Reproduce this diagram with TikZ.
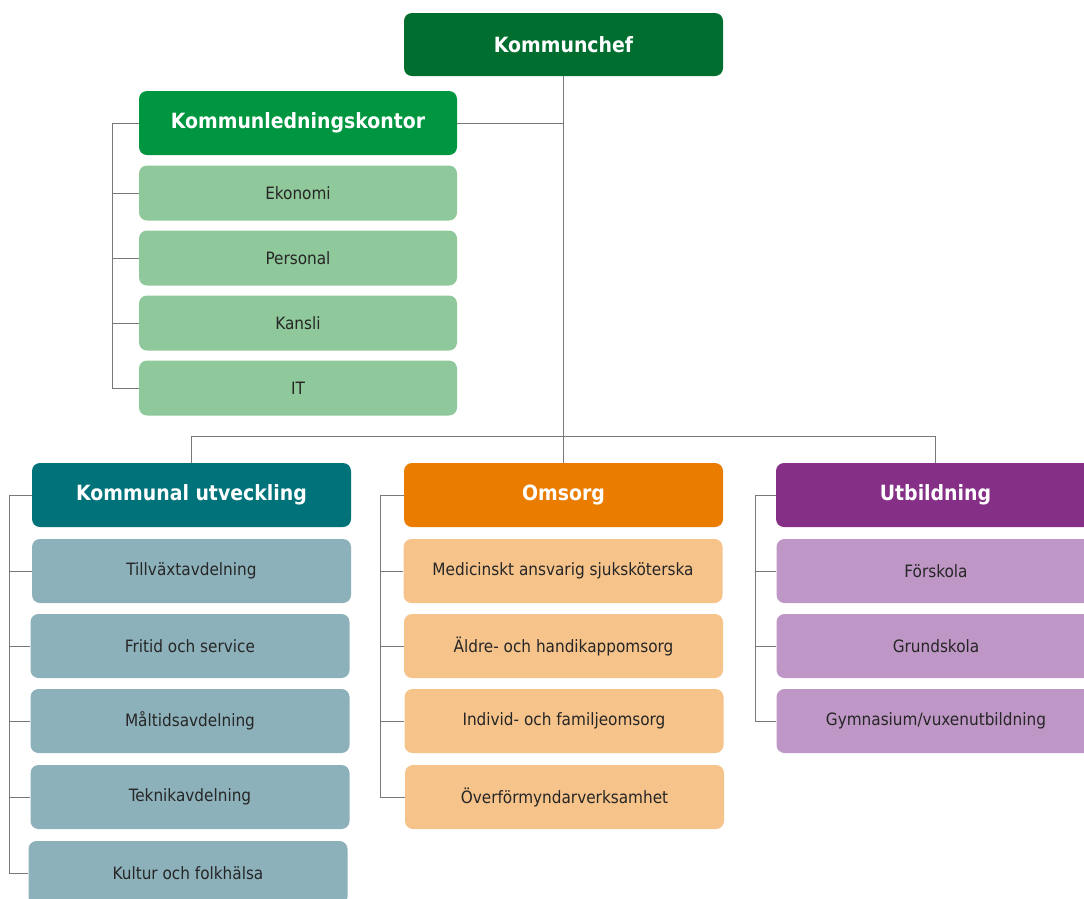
\documentclass[tikz,border=0pt]{standalone}
\usepackage{fontspec}
\setmainfont{DejaVu Sans Condensed}

\definecolor{chefgreen}{RGB}{0,110,46}
\definecolor{klkgreen}{RGB}{0,150,64}
\definecolor{klklight}{RGB}{143,200,154}
\definecolor{kuteal}{RGB}{0,114,122}
\definecolor{kulight}{RGB}{141,177,187}
\definecolor{omsorange}{RGB}{234,125,0}
\definecolor{omslight}{RGB}{246,195,139}
\definecolor{utbpurple}{RGB}{133,47,134}
\definecolor{utblight}{RGB}{191,151,198}
\definecolor{linegrey}{RGB}{120,120,120}

\begin{document}
\begin{tikzpicture}[x=1pt,y=-1pt]

\tikzset{
  unit/.style={rounded corners=8pt, minimum width=319pt, minimum height=64pt, inner sep=0pt, text=white, font=\fontsize{21}{24}\selectfont\bfseries},
  sub/.style={rounded corners=8pt, minimum width=319pt, minimum height=64pt, inner sep=0pt, text=black!85, font=\fontsize{17}{20}\selectfont},
  conn/.style={draw=linegrey, line width=1pt}
}

\useasboundingbox (0,0) rectangle (1084,898);
\clip (0,0) rectangle (1084,898);

\node[unit, fill=chefgreen, minimum height=63pt] (chef) at (563.5,44.5) {Kommunchef};
\coordinate (split) at (563.5,436);

\node[unit, fill=klkgreen, minimum width=318pt] (klk) at (298,123) {Kommunledningskontor};
\node[sub, fill=klklight, minimum width=318pt, minimum height=55pt] (ekonomi) at (298,193) {Ekonomi};
\node[sub, fill=klklight, minimum width=318pt, minimum height=55pt] (personal) at (298,258) {Personal};
\node[sub, fill=klklight, minimum width=318pt, minimum height=55pt] (kansli) at (298,323) {Kansli};
\node[sub, fill=klklight, minimum width=318pt, minimum height=55pt] (it) at (298,388) {IT};
\coordinate (klkrail) at ([xshift=-26pt]klk.west);
\draw[conn] (klk.east) -- (klk.east -| chef.south);
\draw[conn] (klk.west) -- (klkrail) |- (it.west);
\draw[conn] (ekonomi.west) -- (ekonomi.west -| klkrail);
\draw[conn] (personal.west) -- (personal.west -| klkrail);
\draw[conn] (kansli.west) -- (kansli.west -| klkrail);

\node[unit, fill=kuteal] (ku) at (191.5,495) {Kommunal utveckling};
\node[sub, fill=kulight] (tillvaxt) at (191.5,571) {Tillväxtavdelning};
\node[sub, fill=kulight] (fritid) at (190,646) {Fritid och service};
\node[sub, fill=kulight] (maltid) at (190,721) {Måltidsavdelning};
\node[sub, fill=kulight] (teknik) at (190,797) {Teknikavdelning};
\node[sub, fill=kulight] (kultur) at (188,873) {Kultur och folkhälsa};
\coordinate (kurail) at ([xshift=-22pt]ku.west);
\draw[conn] (ku.west) -- (kurail) |- (kultur.west);
\draw[conn] (tillvaxt.west) -- (tillvaxt.west -| kurail);
\draw[conn] (fritid.west) -- (fritid.west -| kurail);
\draw[conn] (maltid.west) -- (maltid.west -| kurail);
\draw[conn] (teknik.west) -- (teknik.west -| kurail);

\node[unit, fill=omsorange] (oms) at (563.5,495) {Omsorg};
\node[sub, fill=omslight] (med) at (563,571) {Medicinskt ansvarig sjuksköterska};
\node[sub, fill=omslight] (aldre) at (563.5,646) {Äldre- och handikappomsorg};
\node[sub, fill=omslight] (individ) at (564,721) {Individ- och familjeomsorg};
\node[sub, fill=omslight] (overf) at (564.5,797) {Överförmyndarverksamhet};
\coordinate (omsrail) at ([xshift=-23pt]oms.west);
\draw[conn] (oms.west) -- (omsrail) |- (overf.west);
\draw[conn] (med.west) -- (med.west -| omsrail);
\draw[conn] (aldre.west) -- (aldre.west -| omsrail);
\draw[conn] (individ.west) -- (individ.west -| omsrail);

\node[unit, fill=utbpurple] (utb) at (935.5,495) {Utbildning};
\node[sub, fill=utblight] (forskola) at (936,571) {Förskola};
\node[sub, fill=utblight] (grund) at (936,646) {Grundskola};
\node[sub, fill=utblight] (gymn) at (936,721) {Gymnasium/vuxenutbildning};
\coordinate (utbrail) at ([xshift=-20pt]utb.west);
\draw[conn] (utb.west) -- (utbrail) |- (gymn.west);
\draw[conn] (forskola.west) -- (forskola.west -| utbrail);
\draw[conn] (grund.west) -- (grund.west -| utbrail);

\draw[conn] (chef.south) -- (oms.north);
\draw[conn] (ku.north) |- (split) -| (utb.north);

\end{tikzpicture}
\end{document}
